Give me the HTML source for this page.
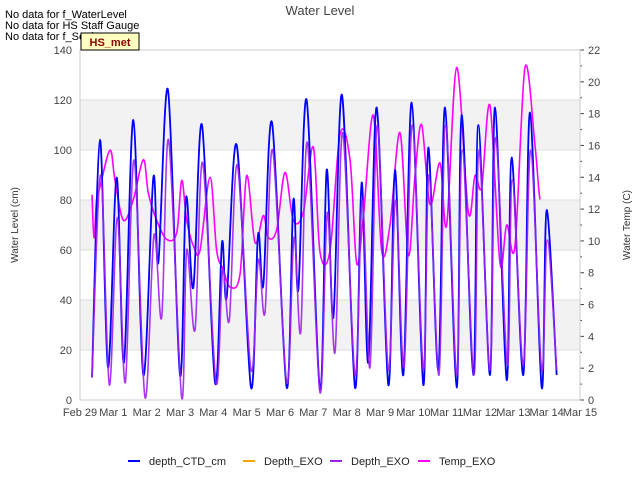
<!DOCTYPE html>
<html><head><meta charset="utf-8"><style>
body{margin:0;background:#fff}
svg{font-family:"Liberation Sans",sans-serif}
</style></head><body>
<svg id="c" width="640" height="480" viewBox="0 0 640 480">
<rect x="80" y="50" width="500" height="350" fill="#fff"/>
<g id="bands"></g><g id="grid"></g>
<g id="series"></g>
<g id="axes"></g>
<text x="320" y="15" text-anchor="middle" font-size="13" fill="#444">Water Level</text>
<text x="5" y="18" font-size="11" fill="#000">No data for f_WaterLevel</text>
<text x="5" y="29" font-size="11" fill="#000">No data for HS Staff Gauge</text>
<text x="5" y="40" font-size="11" fill="#000">No data for f_SonicRng</text>
<g><rect x="81" y="33" width="58" height="17" fill="#ffffc0" stroke="#000" stroke-width="1"/><text x="110" y="46" text-anchor="middle" font-size="11" font-weight="bold" fill="#8b0000">HS_met</text></g>
<text transform="translate(18,225) rotate(-90)" text-anchor="middle" font-size="10" fill="#333">Water Level (cm)</text>
<text transform="translate(630,225) rotate(-90)" text-anchor="middle" font-size="10" fill="#333">Water Temp (C)</text>
<g id="legend"></g>
</svg>
<script>
const NS="http://www.w3.org/2000/svg";
const xLabels=["Feb 29","Mar 1","Mar 2","Mar 3","Mar 4","Mar 5","Mar 6","Mar 7","Mar 8","Mar 9","Mar 10","Mar 11","Mar 12","Mar 13","Mar 14","Mar 15"];
const yTicksL=[0,20,40,60,80,100,120,140];
const yTicksR=[0,2,4,6,8,10,12,14,16,18,20,22];
// times in days since Feb 29
const ctdT=[0.36,0.6,0.84,1.1,1.32,1.6,1.9,2.2,2.35,2.64,3.0,3.18,3.4,3.66,4.05,4.26,4.4,4.7,5.13,5.34,5.5,5.76,6.2,6.4,6.55,6.8,7.2,7.4,7.6,7.86,8.25,8.45,8.65,8.9,9.25,9.45,9.7,9.95,10.3,10.45,10.75,10.95,11.3,11.45,11.8,11.95,12.3,12.45,12.8,12.95,13.3,13.5,13.85,14.0,14.3];
const ctdV=[9,104,13,89,15,112,10,89,55,124,10,81,45,110,7,63,41,102,5,66,46,111,5,80,44,120,4,92,33,122,5,87,15,117,6,92,10,119,6,101,12,117,5,114,10,110,10,117,8,97,10,115,5,76,10];
const exoT=[0.36,0.62,0.88,1.12,1.36,1.62,1.95,2.22,2.45,2.66,3.05,3.2,3.45,3.68,4.08,4.28,4.48,4.72,5.13,5.35,5.55,5.78,6.2,6.42,6.62,6.82,7.2,7.42,7.65,7.88,8.25,8.47,8.7,8.92,9.25,9.47,9.72,9.97,10.3,10.47,10.77,10.97,11.3,11.47,11.82,11.97,12.3,12.47,12.82,12.97,13.3,13.52,13.85,14.02,14.3];
const exoV=[9,90,6,73,7,96,1,66,33,104,1,60,28,95,7,52,32,94,12,56,35,100,7,65,27,103,3,75,19,107,10,80,13,110,12,80,13,110,12,90,10,110,10,100,10,100,12,105,14,88,14,100,12,64,12];
const tempT=[0.36,0.42,0.5,0.6,0.9,1.05,1.3,1.6,1.9,2.05,2.3,2.6,2.9,3.05,3.2,3.4,3.6,3.9,4.1,4.3,4.5,4.8,5.0,5.25,5.5,5.65,5.9,6.15,6.4,6.7,7.0,7.2,7.5,7.8,8.1,8.3,8.5,8.8,9.05,9.3,9.6,9.85,10.05,10.25,10.5,10.8,11.0,11.3,11.65,11.85,12.05,12.3,12.6,12.8,13.05,13.35,13.65,13.8,14.0,14.3];
const tempV=[12.9,10.2,12.6,13.4,15.7,13.8,11.3,12.6,15.1,13.0,11.3,10.1,10.5,13.8,11.3,9.7,9.4,14.0,9.4,8.2,7.1,7.9,14.1,9.9,11.6,10.2,10.7,14.3,11.3,11.8,15.9,9.3,9.4,16.7,15.1,8.6,11.5,17.9,9.4,11.0,16.8,9.1,14.1,17.3,12.3,14.9,11.0,20.9,11.8,14.1,13.4,18.5,8.6,11.0,9.7,20.9,16.0,12.6,11.9];
const X=d=>80+d*500/15, YL=v=>400-v*350/140, YR=v=>400-v*350/22;
function el(t,a,p){const e=document.createElementNS(NS,t);for(const k in a)e.setAttribute(k,a[k]);(p||document.getElementById('c')).appendChild(e);return e;}
const bands=document.getElementById('bands'),grid=document.getElementById('grid'),axes=document.getElementById('axes');
[[20,40],[60,80],[100,120]].forEach(b=>{const r=el('rect',{x:80,y:YL(b[1]),width:500,height:YL(b[0])-YL(b[1]),fill:'#f2f2f2'},bands);

});
yTicksL.forEach(v=>{const l=el('line',{x1:80,x2:580,y1:YL(v),y2:YL(v),stroke:'#ddd'},grid);


const t=el('text',{x:72,y:YL(v)+4,'text-anchor':'end','font-size':11,fill:'#444'},axes);t.textContent=v;

});
yTicksR.forEach((v,i)=>{const t=el('text',{x:588,y:YR(v)+4,'font-size':11,fill:'#444'},axes);t.textContent=v;


el('line',{x1:580,x2:584,y1:YR(v),y2:YR(v),stroke:'#444'},axes);
if(i<yTicksR.length-1){el('line',{x1:580,x2:582,y1:YR(v+1),y2:YR(v+1),stroke:'#444'},axes);}});
xLabels.forEach((s,i)=>{const t=el('text',{x:X(i),y:416,'text-anchor':'middle','font-size':11,fill:'#444'},axes);t.textContent=s;

});
el('rect',{x:80,y:50,width:500,height:350,fill:'none',stroke:'#ccc'},axes);
function path(T,V,yf){const p=T.map((t,i)=>[X(t),yf(V[i])]);let d='M'+p[0][0]+','+p[0][1];
for(let i=0;i<p.length-1;i++){const p0=p[i-1]||p[i],p1=p[i],p2=p[i+1],p3=p[i+2]||p2;
d+=' C'+(p1[0]+(p2[0]-p0[0])/6)+','+(p1[1]+(p2[1]-p0[1])/6)+' '+(p2[0]-(p3[0]-p1[0])/6)+','+(p2[1]-(p3[1]-p1[1])/6)+' '+p2[0]+','+p2[1];}return d;}
const S=document.getElementById('series');
const sT=el('path',{d:path(tempT,tempV,YR),fill:'none',stroke:'#ff00ff','stroke-width':1.6},S);


const sC=el('path',{d:path(ctdT,ctdV,YL),fill:'none',stroke:'#0000ff','stroke-width':1.8},S);


const sE=el('path',{d:path(exoT,exoV,YL),fill:'none',stroke:'#a020f0','stroke-width':1.6,opacity:0.9},S);


const L=document.getElementById('legend');
[["depth_CTD_cm","#0000ff",128],["Depth_EXO","#ffa500",243],["Depth_EXO","#a020f0",330],["Temp_EXO","#ff00ff",418]].forEach(e=>{
const g=el('g',{},L);


el('line',{x1:e[2],x2:e[2]+12,y1:461,y2:461,stroke:e[1],'stroke-width':2},g);
const t=el('text',{x:e[2]+21,y:465,'font-size':11,fill:'#222'},g);t.textContent=e[0];});
</script>
</body></html>
